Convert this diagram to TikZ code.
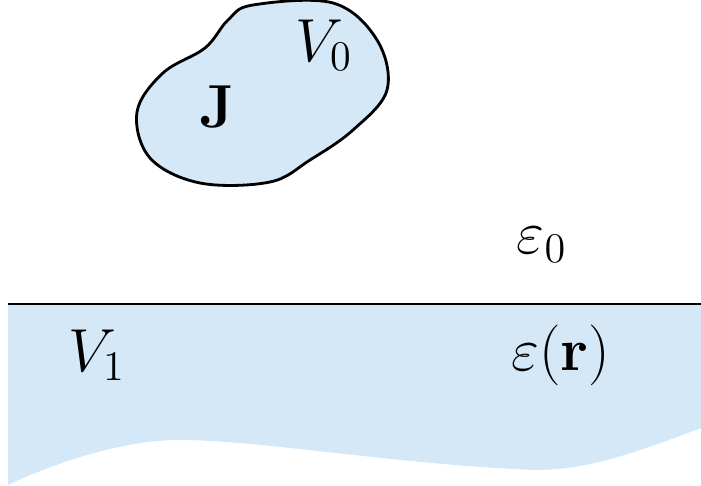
\documentclass[tikz,border=0pt]{standalone}
\usepackage{amsmath,amssymb}
\usepackage{tikz}
\usetikzlibrary{positioning}
\definecolor{medium}{HTML}{D5E8F8}
\tikzset{
  region/.style={fill=medium, draw=none},
  outline/.style={draw=black, line width=0.8pt},
  lbl/.style={inner sep=0pt, font=\fontsize{18.5}{22}\selectfont}
}

\begin{document}
\begin{tikzpicture}[x=0.01cm, y=-0.01cm]
    \useasboundingbox (0,0) rectangle (701,486);
    % source volume
    \draw[outline, fill=medium] plot[smooth cycle, tension=0.6] coordinates {
      (253,5) (333,3) (377,40) (387,90) (353,130) (310,160) (270,182)
      (200,183) (150,158) (137,112) (163,73) (205,48) (228,20)};
    \node[lbl] (src) at (217,107) {$\mathbf{J}$};
    \node[lbl] (vzero) at (324,45) {$V_0$};
    % background medium
    \node[lbl] (epszero) at (542,245) {$\varepsilon_0$};
    % half space
    \path[region] (8,304) -- (701,304) -- (701,428)
      .. controls (630,455) and (585,470) .. (536,470)
      .. controls (400,465) and (260,440) .. (179,440)
      .. controls (120,440) and (50,465) .. (8,485) -- cycle;
    \draw[outline] (8,304) -- (701,304);
    \node[lbl] (vone) at (97,355) {$V_1$};
    \node[lbl] (epsr) at (561,355) {$\varepsilon(\mathbf{r})$};
  \end{tikzpicture}
\end{document}
